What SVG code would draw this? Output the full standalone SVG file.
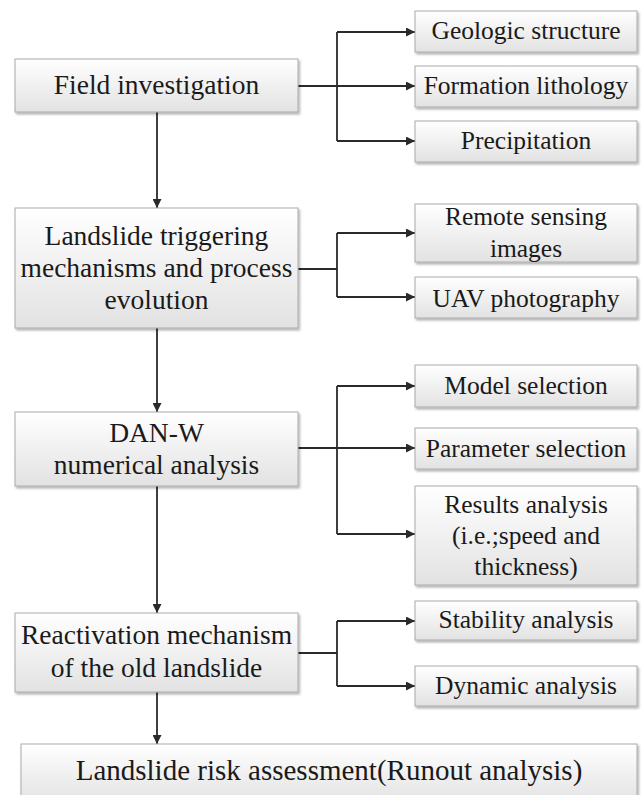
<svg xmlns="http://www.w3.org/2000/svg" width="641" height="795" viewBox="0 0 641 795">
<defs>
<linearGradient id="g" x1="0" y1="0" x2="0" y2="1">
<stop offset="0" stop-color="#ffffff"/>
<stop offset="1" stop-color="#e2e2e2"/>
</linearGradient>
<filter id="sh" x="-5%" y="-5%" width="115%" height="125%">
<feDropShadow dx="1.5" dy="2" stdDeviation="1" flood-color="#000" flood-opacity="0.3"/>
</filter>
<marker id="ah" viewBox="0 0 10 10" refX="10" refY="5" markerWidth="10" markerHeight="9" markerUnits="userSpaceOnUse" orient="auto">
<path d="M0,0 L10,5 L0,10 z" fill="#2a2a2a"/>
</marker>
</defs>
<style>
rect.b{fill:url(#g);stroke:#aaaaaa;stroke-width:1;filter:url(#sh)}
text{font-family:'Liberation Serif','Times New Roman',serif;fill:#1a1a1a;text-anchor:middle}
.l{font-size:27.5px}
.r{font-size:25.5px}
.f{font-size:29px}
.c{fill:none;stroke:#2a2a2a;stroke-width:1.8}
</style>
<rect width="641" height="795" fill="#ffffff"/>
<g id="connectors">
<path class="c" d="M298,86 H337"/>
<path class="c" d="M337,32 V141"/>
<path class="c" d="M337,32 H415" marker-end="url(#ah)"/>
<path class="c" d="M337,86 H415" marker-end="url(#ah)"/>
<path class="c" d="M337,141 H415" marker-end="url(#ah)"/>
<path class="c" d="M157,112 V208" marker-end="url(#ah)"/>
<path class="c" d="M298,269 H337"/>
<path class="c" d="M337,233 V297"/>
<path class="c" d="M337,233 H415" marker-end="url(#ah)"/>
<path class="c" d="M337,297 H415" marker-end="url(#ah)"/>
<path class="c" d="M157,328 V412" marker-end="url(#ah)"/>
<path class="c" d="M298,448 H337"/>
<path class="c" d="M337,386 V534"/>
<path class="c" d="M337,386 H415" marker-end="url(#ah)"/>
<path class="c" d="M337,448 H415" marker-end="url(#ah)"/>
<path class="c" d="M337,534 H415" marker-end="url(#ah)"/>
<path class="c" d="M157,486 V613" marker-end="url(#ah)"/>
<path class="c" d="M298,653 H337"/>
<path class="c" d="M337,621 V686"/>
<path class="c" d="M337,621 H415" marker-end="url(#ah)"/>
<path class="c" d="M337,686 H415" marker-end="url(#ah)"/>
<path class="c" d="M157,692 V744" marker-end="url(#ah)"/>
</g>
<g id="field">
<rect class="b" x="15" y="59" width="283" height="53"/>
<text class="l" x="156.5" y="94">Field investigation</text>
</g>
<g id="geologic">
<rect class="b" x="415" y="11" width="222" height="41"/>
<text class="r" x="526" y="39">Geologic structure</text>
</g>
<g id="formation">
<rect class="b" x="415" y="66" width="222" height="41"/>
<text class="r" x="526" y="94">Formation lithology</text>
</g>
<g id="precipitation">
<rect class="b" x="415" y="121" width="222" height="41"/>
<text class="r" x="526" y="149">Precipitation</text>
</g>
<g id="triggering">
<rect class="b" x="15" y="208" width="283" height="120"/>
<text class="l" x="156.5" y="245">Landslide triggering</text>
<text class="l" x="156.5" y="277">mechanisms and process</text>
<text class="l" x="156.5" y="309">evolution</text>
</g>
<g id="remote">
<rect class="b" x="415" y="204" width="222" height="58"/>
<text class="r" x="526" y="225">Remote sensing</text>
<text class="r" x="526" y="257">images</text>
</g>
<g id="uav">
<rect class="b" x="415" y="277" width="222" height="41"/>
<text class="r" x="526" y="307">UAV photography</text>
</g>
<g id="danw">
<rect class="b" x="15" y="412" width="283" height="74"/>
<text class="l" x="156.5" y="442">DAN-W</text>
<text class="l" x="156.5" y="474">numerical analysis</text>
</g>
<g id="model">
<rect class="b" x="415" y="365" width="222" height="42"/>
<text class="r" x="526" y="394">Model selection</text>
</g>
<g id="parameter">
<rect class="b" x="415" y="428" width="222" height="41"/>
<text class="r" x="526" y="457">Parameter selection</text>
</g>
<g id="results">
<rect class="b" x="415" y="486" width="222" height="99"/>
<text class="r" x="526" y="513">Results analysis</text>
<text class="r" x="526" y="544">(i.e.;speed and</text>
<text class="r" x="526" y="575">thickness)</text>
</g>
<g id="reactivation">
<rect class="b" x="15" y="613" width="283" height="79"/>
<text class="l" x="156.5" y="644">Reactivation mechanism</text>
<text class="l" x="156.5" y="677">of the old landslide</text>
</g>
<g id="stability">
<rect class="b" x="415" y="601" width="222" height="39"/>
<text class="r" x="526" y="628">Stability analysis</text>
</g>
<g id="dynamic">
<rect class="b" x="415" y="666" width="222" height="40"/>
<text class="r" x="526" y="694">Dynamic analysis</text>
</g>
<g id="risk">
<rect class="b" x="21" y="744" width="616" height="60"/>
<text class="f" x="329" y="780">Landslide risk assessment(Runout analysis)</text>
</g>
</svg>
